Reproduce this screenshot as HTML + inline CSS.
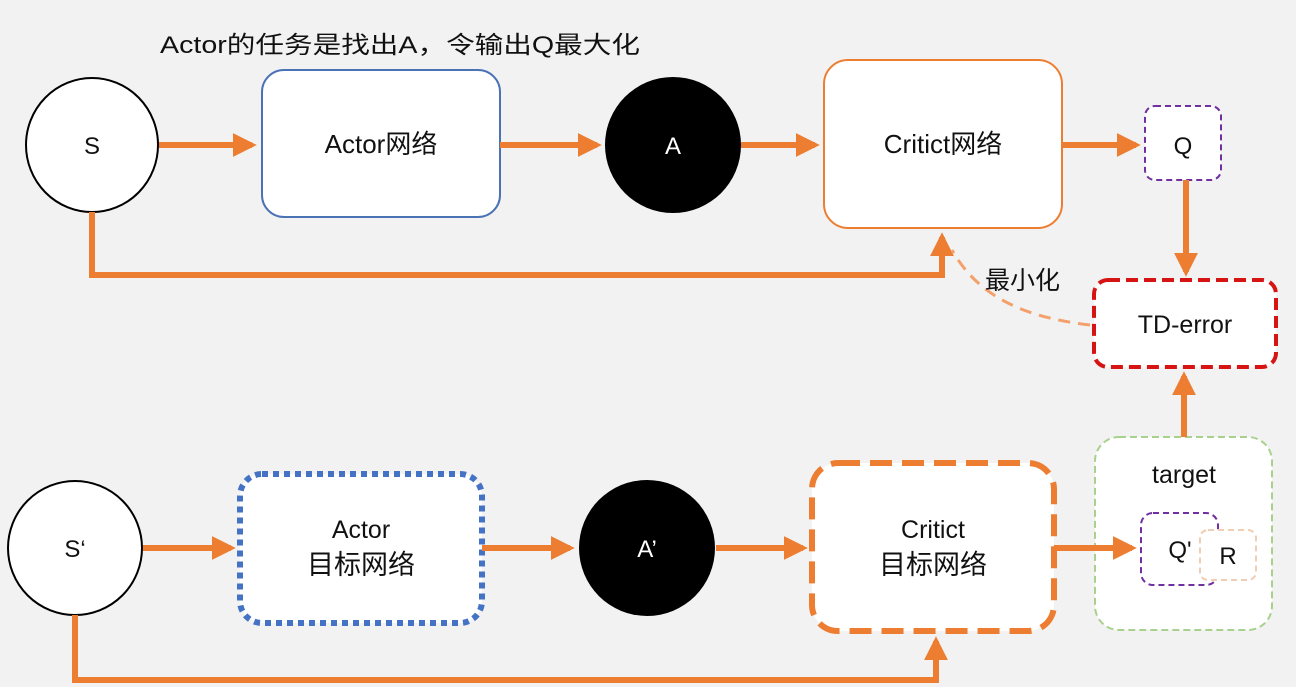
<!DOCTYPE html>
<html><head><meta charset="utf-8"><style>
html,body{margin:0;padding:0;background:#f2f2f2;}
svg{display:block;}
text{font-family:"Liberation Sans","Noto Sans CJK SC",sans-serif;fill:#111;}
</style></head><body>
<svg width="1296" height="687" viewBox="0 0 1296 687" xmlns="http://www.w3.org/2000/svg">
<defs>
<marker id="ah" markerWidth="4" markerHeight="4" refX="3.2" refY="2" orient="auto" markerUnits="strokeWidth">
<path d="M0,0 L4,2 L0,4 z" fill="#ed7d31"/></marker>
</defs>
<rect width="1296" height="687" fill="#f2f2f2"/>
<text x="160" y="53" font-size="24" textLength="480" lengthAdjust="spacingAndGlyphs">Actor的任务是找出A，令输出Q最大化</text>

<!-- top row -->
<ellipse cx="92" cy="145" rx="66" ry="67" fill="#fff" stroke="#000" stroke-width="2"/>
<text x="92" y="154" font-size="24" text-anchor="middle">S</text>
<rect x="262" y="70" width="238" height="147" rx="22" fill="#fff" stroke="#4a72b5" stroke-width="2"/>
<text x="381" y="153" font-size="26" text-anchor="middle">Actor网络</text>
<ellipse cx="673" cy="145" rx="68" ry="68" fill="#000"/>
<text x="673" y="154" font-size="24" text-anchor="middle" style="fill:#fff">A</text>
<rect x="824" y="60" width="238" height="168" rx="24" fill="#fff" stroke="#ed7d31" stroke-width="2"/>
<text x="943" y="153" font-size="26" text-anchor="middle">Critict网络</text>
<rect x="1145" y="106" width="76" height="74" rx="10" fill="#fff" stroke="#7030a0" stroke-width="2" stroke-dasharray="6,4"/>
<text x="1183" y="154" font-size="24" text-anchor="middle">Q</text>

<g stroke="#ed7d31" stroke-width="6" fill="none" marker-end="url(#ah)">
<line x1="159" y1="145" x2="252" y2="145"/>
<line x1="500" y1="145" x2="597" y2="145"/>
<line x1="741" y1="145" x2="815" y2="145"/>
<line x1="1062" y1="145" x2="1136" y2="145"/>
<line x1="1186" y1="180" x2="1186" y2="272"/>
<polyline points="92,212 92,275 942,275 942,237"/>
</g>
<path d="M1090,325 C1030,318 980,300 952,250" stroke="#f4a06a" stroke-width="3" fill="none" stroke-dasharray="12,8"/>
<text x="985" y="289" font-size="25">最小化</text>

<rect x="1094" y="280" width="182" height="87" rx="14" fill="#fff" stroke="#d71414" stroke-width="4" stroke-dasharray="12,6"/>
<text x="1185" y="333" font-size="25" text-anchor="middle">TD-error</text>

<!-- target -->
<rect x="1095" y="437" width="177" height="193" rx="24" fill="#fff" stroke="#a9d18e" stroke-width="2" stroke-dasharray="7,4"/>
<text x="1184" y="483" font-size="25" text-anchor="middle">target</text>
<rect x="1141" y="513" width="77" height="72" rx="12" fill="#fff" stroke="#7030a0" stroke-width="2" stroke-dasharray="6,4"/>
<text x="1180" y="558" font-size="24" text-anchor="middle">Q'</text>
<rect x="1200" y="530" width="56" height="50" rx="8" fill="#fff" stroke="#f0cdb5" stroke-width="2" stroke-dasharray="6,4"/>
<text x="1228" y="564" font-size="24" text-anchor="middle">R</text>
<line x1="1184" y1="437" x2="1184" y2="376" stroke="#ed7d31" stroke-width="6" marker-end="url(#ah)"/>

<!-- bottom row -->
<ellipse cx="75" cy="548" rx="67" ry="67" fill="#fff" stroke="#000" stroke-width="2"/>
<text x="75" y="557" font-size="24" text-anchor="middle">S‘</text>
<rect x="240" y="474" width="242" height="149" rx="22" fill="#fff" stroke="#4472c4" stroke-width="6" stroke-dasharray="6,5"/>
<text x="361" y="538" font-size="25" text-anchor="middle">Actor</text>
<text x="361" y="574" font-size="27" text-anchor="middle">目标网络</text>
<ellipse cx="647" cy="548" rx="68" ry="68" fill="#000"/>
<text x="647" y="557" font-size="24" text-anchor="middle" style="fill:#fff">A’</text>
<rect x="812" y="463" width="242" height="168" rx="26" fill="#fff" stroke="#ed7d31" stroke-width="6" stroke-dasharray="22,10"/>
<text x="933" y="538" font-size="25" text-anchor="middle">Critict</text>
<text x="933" y="574" font-size="27" text-anchor="middle">目标网络</text>

<g stroke="#ed7d31" stroke-width="6" fill="none" marker-end="url(#ah)">
<line x1="143" y1="548" x2="231" y2="548"/>
<line x1="482" y1="548" x2="570" y2="548"/>
<line x1="716" y1="548" x2="803" y2="548"/>
<line x1="1054" y1="548" x2="1132" y2="548"/>
<polyline points="75,615 75,680 936,680 936,641"/>
</g>
</svg>
</body></html>
